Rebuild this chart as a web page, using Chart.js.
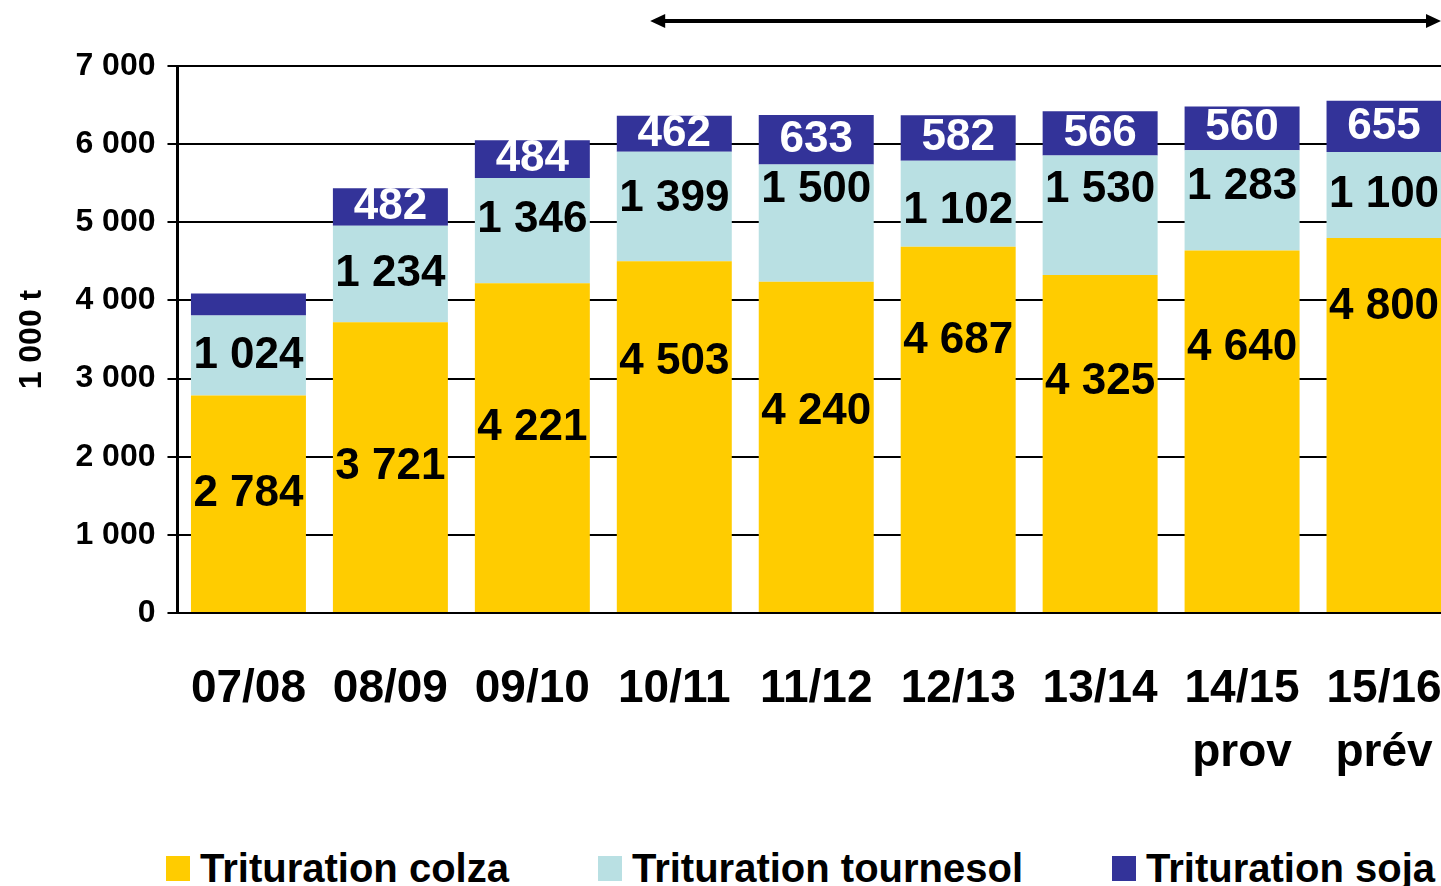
<!DOCTYPE html>
<html lang="fr">
<head>
<meta charset="UTF-8">
<title>Trituration</title>
<script src="https://cdn.jsdelivr.net/npm/chart.js"></script>
<style>
  html, body { margin: 0; padding: 0; background: #fff; overflow: hidden; }
  body { font-family: 'Liberation Sans', Arial, sans-serif; }
  .wrap { position: relative; width: 1460px; height: 801px; }
  #legend {
    position: absolute; left: 166px; top: 848px;
    display: flex; gap: 89px;
    font: bold 40px 'Liberation Sans', Arial, sans-serif; line-height: 40px;
  }
  #legend .item { display: flex; align-items: flex-start; white-space: nowrap; }
  #legend .box { width: 24px; height: 25px; margin-top: 8px; margin-right: 10px; }
</style>
</head>
<body>
<div class="wrap"><canvas id="chart"></canvas></div>
<div id="legend"></div>
<script>
// campaigns (x categories)
const campaigns = [['07/08'], ['08/09'], ['09/10'], ['10/11'], ['11/12'], ['12/13'], ['13/14'], ['14/15', 'prov'], ['15/16', 'prév']];
// 1 000 t
const colza = [2784, 3721, 4221, 4503, 4240, 4687, 4325, 4640, 4800];
const tournesol = [1024, 1234, 1346, 1399, 1500, 1102, 1530, 1283, 1100];
const soja = [280, 482, 484, 462, 633, 582, 566, 560, 655];
const yTicks = [0, 1000, 2000, 3000, 4000, 5000, 6000, 7000];

const FONT = "'Liberation Sans', Arial, sans-serif";
const fmt = v => String(v).replace(/\B(?=(\d{3})+(?!\d))/g, ' ');

// value labels inside each stacked segment (labels were hand-moved in the original)
const segLabels = {
  id: 'segLabels',
  afterDatasetsDraw(chart, args, opts) {
    const ctx = chart.ctx;
    ctx.save();
    ctx.font = 'bold 44px ' + FONT;
    ctx.textAlign = 'center';
    ctx.textBaseline = 'middle';
    chart.data.datasets.forEach((ds, di) => {
      chart.getDatasetMeta(di).data.forEach((bar, i) => {
        const v = ds.data[i];
        if (v < opts.minValue) return;
        const shift = (opts.shifts[di] || [])[i] || 0;
        ctx.fillStyle = opts.colors[di];
        ctx.fillText(fmt(v), bar.x, (bar.y + bar.base) / 2 + shift);
      });
    });
    ctx.restore();
  }
};

// double arrow above the recent campaigns
const topArrow = {
  id: 'topArrow',
  afterDraw(chart) {
    const x = chart.scales.x, ctx = chart.ctx;
    const step = x.getPixelForValue(1) - x.getPixelForValue(0);
    const x0 = x.getPixelForValue(3) - step * 0.17;
    const x1 = chart.chartArea.right - 14;
    const y = 21;
    ctx.save();
    ctx.strokeStyle = '#000';
    ctx.fillStyle = '#000';
    ctx.lineWidth = 4;
    ctx.beginPath();
    ctx.moveTo(x0 + 10, y); ctx.lineTo(x1 - 10, y);
    ctx.stroke();
    ctx.beginPath();
    ctx.moveTo(x0, y); ctx.lineTo(x0 + 15, y - 7); ctx.lineTo(x0 + 15, y + 7); ctx.closePath();
    ctx.fill();
    ctx.beginPath();
    ctx.moveTo(x1, y); ctx.lineTo(x1 - 15, y - 7); ctx.lineTo(x1 - 15, y + 7); ctx.closePath();
    ctx.fill();
    ctx.restore();
  }
};

const chart = new Chart(document.getElementById('chart'), {
  type: 'bar',
  data: {
    labels: campaigns,
    datasets: [
      { label: 'Trituration colza', data: colza, backgroundColor: '#FFCC00' },
      { label: 'Trituration tournesol', data: tournesol, backgroundColor: '#B9E0E3' },
      { label: 'Trituration soja', data: soja, backgroundColor: '#333399' }
    ]
  },
  options: {
    responsive: true,
    maintainAspectRatio: false,
    animation: false,
    barPercentage: 0.81,
    categoryPercentage: 1,
    layout: { padding: { top: 66, right: 5, bottom: 16, left: 0 } },
    plugins: {
      legend: { display: false },
      tooltip: { enabled: false },
      segLabels: {
        minValue: 300,
        colors: ['#000', '#000', '#fff'],
        shifts: [
          [-10, 0, -20, -75, -35, -89, -62, -83, -118],
          [0, 0, -11, -8, -33, 7, -25, -13, 0],
          []
        ]
      }
    },
    scales: {
      x: {
        stacked: true,
        grid: { display: true, drawOnChartArea: false, drawTicks: true, tickLength: 44, color: 'rgba(0,0,0,0)' },
        border: { display: false },
        ticks: {
          color: '#000',
          padding: 0,
          maxRotation: 0,
          autoSkip: false,
          font: { family: FONT, size: 46, weight: 'bold', lineHeight: 1.39 }
        }
      },
      y: {
        stacked: true,
        min: 0,
        max: 7000,
        afterBuildTicks: axis => { axis.ticks = yTicks.map(v => ({ value: v })); },
        grid: { color: '#000', lineWidth: 2, tickLength: 10, drawTicks: true },
        border: { color: '#000', width: 3 },
        ticks: {
          color: '#000',
          padding: 12,
          font: { family: FONT, size: 32, weight: 'bold' },
          callback: v => fmt(v)
        },
        title: {
          display: true,
          text: '1 000 t',
          color: '#000',
          padding: { top: 13, bottom: 12 },
          font: { family: FONT, size: 32, weight: 'bold', lineHeight: 1.2 }
        }
      }
    }
  },
  plugins: [segLabels, topArrow]
});

// legend under the chart
const legend = document.getElementById('legend');
chart.data.datasets.forEach(ds => {
  const item = document.createElement('div');
  item.className = 'item';
  const box = document.createElement('span');
  box.className = 'box';
  box.style.background = ds.backgroundColor;
  const txt = document.createElement('span');
  txt.textContent = ds.label;
  item.appendChild(box);
  item.appendChild(txt);
  legend.appendChild(item);
});
</script>
</body>
</html>
